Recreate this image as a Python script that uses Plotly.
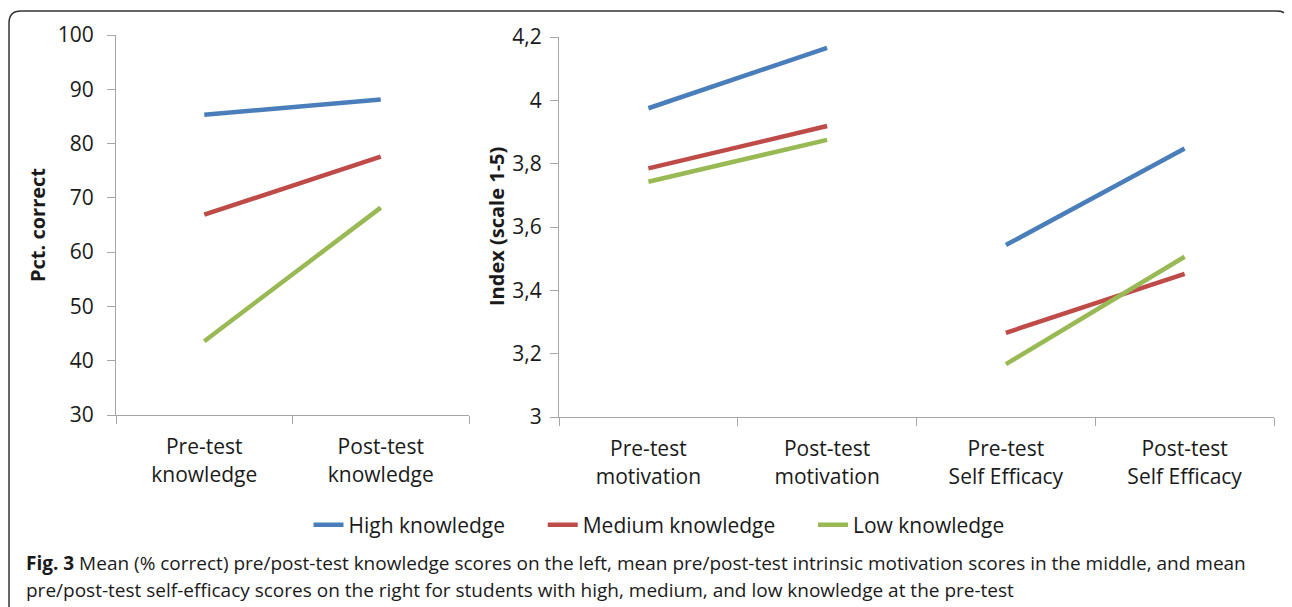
import plotly.graph_objects as go

# ---- data ----
left_categories = ["Pre-test<br>knowledge", "Post-test<br>knowledge"]
right_categories = ["Pre-test<br>motivation", "Post-test<br>motivation",
                    "Pre-test<br>Self Efficacy", "Post-test<br>Self Efficacy"]
series_names = ["High knowledge", "Medium knowledge", "Low knowledge"]
knowledge_high = [85.3, 88.1]
knowledge_medium = [66.9, 77.6]
knowledge_low = [43.6, 68.2]
motivation_high = [3.975, 4.166]
motivation_medium = [3.785, 3.919]
motivation_low = [3.743, 3.875]
efficacy_high = [3.543, 3.848]
efficacy_medium = [3.266, 3.452]
efficacy_low = [3.167, 3.506]
left_yticks = [30, 40, 50, 60, 70, 80, 90, 100]
right_yticks = [3.0, 3.2, 3.4, 3.6, 3.8, 4.0, 4.2]
right_yticklabels = ["3", "3,2", "3,4", "3,6", "3,8", "4", "4,2"]

colors = ["#4A7EBB", "#BE4B48", "#98B954"]
# page body has an 8px margin, so the figure is drawn from (8, 8)
OFF = 8
W, H = 1292 - OFF, 607 - OFF
FONT = "Open Sans"
TXT = "#1a1a1a"

fig = go.Figure()

knowledge = [knowledge_high, knowledge_medium, knowledge_low]
motivation = [motivation_high, motivation_medium, motivation_low]
efficacy = [efficacy_high, efficacy_medium, efficacy_low]

pad = "\u00a0" * 6
for i, name in enumerate(series_names):
    fig.add_trace(go.Scatter(x=left_categories, y=knowledge[i], mode="lines",
                             name=name + (pad if i < len(series_names) - 1 else ""),
                             line=dict(color=colors[i], width=4.5), legendgroup=name,
                             xaxis="x", yaxis="y"))
for i, name in enumerate(series_names):
    fig.add_trace(go.Scatter(x=right_categories[0:2], y=motivation[i], mode="lines", name=name,
                             line=dict(color=colors[i], width=4.5), legendgroup=name,
                             showlegend=False, xaxis="x2", yaxis="y2"))
    fig.add_trace(go.Scatter(x=right_categories[2:4], y=efficacy[i], mode="lines", name=name,
                             line=dict(color=colors[i], width=4.5), legendgroup=name,
                             showlegend=False, xaxis="x2", yaxis="y2"))

def px(x):
    return (x - OFF) / W

def py(y):
    return 1 - (y - OFF) / H

axis_common = dict(showgrid=False, zeroline=False, showline=True, linecolor="#A6A6A6",
                   linewidth=1, ticks="outside", ticklen=8, tickcolor="#A6A6A6",
                   automargin=False,
                   tickfont=dict(family=FONT, size=21, color=TXT))

fig.update_layout(
    width=W, height=H,
    margin=dict(l=0, r=0, t=0, b=0),
    paper_bgcolor="white", plot_bgcolor="white",
    xaxis=dict(axis_common, domain=[px(116), px(469)], type="category",
               categoryorder="array", categoryarray=left_categories,
               range=[-0.5, 1.5], tickson="boundaries", anchor="y",
               ticklabelstandoff=13),
    yaxis=dict(axis_common, domain=[py(415), py(35)], range=[30, 100],
               tickvals=left_yticks, anchor="x", ticklabelstandoff=9),
    xaxis2=dict(axis_common, domain=[px(559), px(1274)], type="category",
                categoryorder="array", categoryarray=right_categories,
                range=[-0.5, 3.5], tickson="boundaries", anchor="y2",
                ticklabelstandoff=13),
    yaxis2=dict(axis_common, domain=[py(417), py(37)], range=[3.0, 4.2],
                tickvals=right_yticks, ticktext=right_yticklabels, anchor="x2",
                ticklabelstandoff=4),
    showlegend=True,
    legend=dict(orientation="h", x=px(659), xanchor="center", y=py(525), yanchor="middle",
                font=dict(family=FONT, size=21, color=TXT), bgcolor="rgba(0,0,0,0)",
                itemwidth=30, tracegroupgap=0),
)

fig.add_annotation(text="<b>Pct. correct</b>", x=px(37), y=py(225), xref="paper", yref="paper",
                   xanchor="center", yanchor="middle",
                   textangle=-90, showarrow=False, font=dict(family=FONT, size=20, color=TXT))
fig.add_annotation(text="<b>Index (scale 1-5)</b>", x=px(496), y=py(227), xref="paper", yref="paper",
                   xanchor="center", yanchor="middle",
                   textangle=-90, showarrow=False, font=dict(family=FONT, size=20, color=TXT))

fig.add_annotation(text="<b>Fig. 3</b> Mean (% correct) pre/post-test knowledge scores on the left, mean pre/post-test intrinsic motivation scores in the middle, and mean",
                   x=px(24), y=py(563), xref="paper", yref="paper", xanchor="left", yanchor="middle",
                   showarrow=False, font=dict(family=FONT, size=19, color=TXT))
fig.add_annotation(text="pre/post-test self-efficacy scores on the right for students with high, medium, and low knowledge at the pre-test",
                   x=px(24), y=py(590), xref="paper", yref="paper", xanchor="left", yanchor="middle",
                   showarrow=False, font=dict(family=FONT, size=19, color=TXT))

# rounded frame
r = 12
path = (f"M {px(9)},{py(640)} L {px(9)},{py(11 + r)} Q {px(9)},{py(11)} {px(9 + r)},{py(11)} "
        f"L {px(1289 - r)},{py(11)} Q {px(1289)},{py(11)} {px(1289)},{py(11 + r)} L {px(1289)},{py(640)}")
fig.add_shape(type="path", path=path, xref="paper", yref="paper",
              line=dict(color="#333333", width=1.5))

fig.write_html("out.html")
